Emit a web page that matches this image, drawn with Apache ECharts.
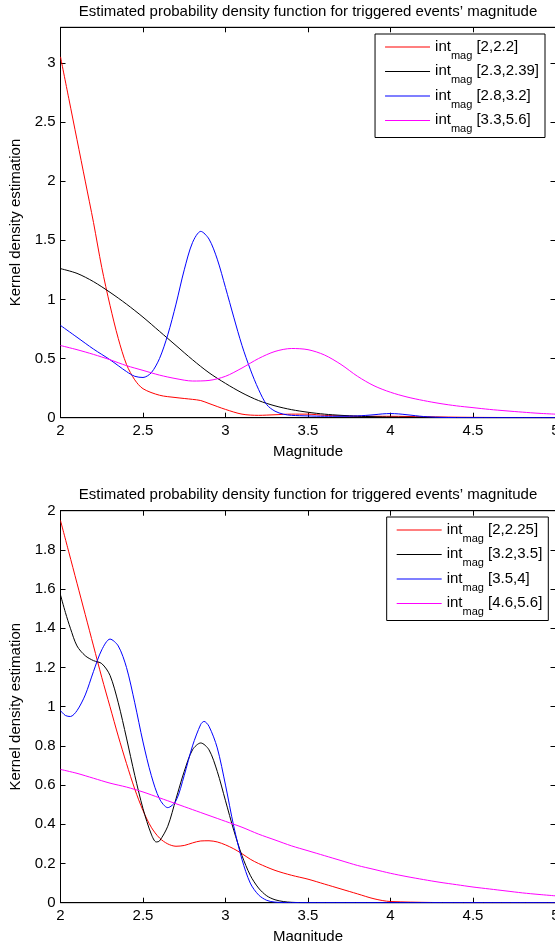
<!DOCTYPE html>
<html>
<head>
<meta charset="utf-8">
<script src="https://cdn.jsdelivr.net/npm/echarts@6/dist/echarts.min.js"></script>
<style>
  html, body { margin: 0; padding: 0; background: #fff; }
  #chart { width: 555px; height: 941px; }
</style>
</head>
<body>
<div id="chart"></div>
<script>
// ---- Chart text ----
const titleText = "Estimated probability density function for triggered events\u2019 magnitude";
const xName = "Magnitude";
const yName = "Kernel density estimation";

// ---- Tick labels ----
const xTicks = [2, 2.5, 3, 3.5, 4, 4.5, 5];
const xTickLabels = ["2", "2.5", "3", "3.5", "4", "4.5", "5"];
const topYTicks = [0, 0.5, 1, 1.5, 2, 2.5, 3];
const topYTickLabels = ["0", "0.5", "1", "1.5", "2", "2.5", "3"];
const topYMax = 3.3;
const botYTicks = [0, 0.2, 0.4, 0.6, 0.8, 1, 1.2, 1.4, 1.6, 1.8, 2];
const botYTickLabels = ["0", "0.2", "0.4", "0.6", "0.8", "1", "1.2", "1.4", "1.6", "1.8", "2"];
const botYMax = 2;

// ---- Upper panel: magnitude intervals ----
const topNames = ["[2,2.2]", "[2.3,2.39]", "[2.8,3.2]", "[3.3,5.6]"];

const topRedX = [2.0, 2.05, 2.1, 2.15, 2.2, 2.25, 2.3, 2.35, 2.4, 2.45, 2.5, 2.6, 2.7, 2.8, 2.85, 2.9, 3.0, 3.1, 3.2, 3.3, 3.4, 3.5, 3.6, 3.7, 3.8, 3.9, 4.0, 4.2, 4.5, 5.0];
const topRedY = [3.05, 2.70, 2.35, 2.00, 1.65, 1.27, 0.95, 0.67, 0.45, 0.32, 0.245, 0.19, 0.17, 0.155, 0.145, 0.12, 0.07, 0.03, 0.02, 0.025, 0.03, 0.03, 0.02, 0.015, 0.012, 0.012, 0.012, 0.008, 0.003, 0.0];

const topBlackX = [2.0, 2.1, 2.2, 2.3, 2.4, 2.5, 2.6, 2.7, 2.8, 2.9, 3.0, 3.1, 3.2, 3.3, 3.4, 3.5, 3.6, 3.7, 3.8, 3.9, 4.0, 4.2, 4.5, 5.0];
const topBlackY = [1.26, 1.22, 1.15, 1.06, 0.96, 0.85, 0.73, 0.61, 0.49, 0.38, 0.29, 0.21, 0.145, 0.1, 0.068, 0.046, 0.03, 0.02, 0.013, 0.008, 0.005, 0.003, 0.001, 0.0];

const topBlueX = [2.0, 2.1, 2.2, 2.3, 2.4, 2.45, 2.5, 2.55, 2.6, 2.65, 2.7, 2.75, 2.8, 2.85, 2.9, 2.95, 3.0, 3.05, 3.1, 3.15, 3.2, 3.25, 3.3, 3.35, 3.4, 3.5, 3.6, 3.7, 3.8, 3.9, 3.95, 4.0, 4.05, 4.1, 4.2, 4.3, 4.5, 5.0];
const topBlueY = [0.78, 0.68, 0.58, 0.49, 0.39, 0.35, 0.34, 0.38, 0.5, 0.7, 0.96, 1.25, 1.48, 1.575, 1.51, 1.34, 1.1, 0.85, 0.61, 0.41, 0.24, 0.11, 0.055, 0.03, 0.02, 0.015, 0.012, 0.012, 0.015, 0.025, 0.032, 0.035, 0.032, 0.025, 0.01, 0.003, 0.0, 0.0];

const topMagX = [2.0, 2.1, 2.2, 2.3, 2.4, 2.5, 2.6, 2.7, 2.8, 2.9, 3.0, 3.1, 3.2, 3.3, 3.4, 3.5, 3.6, 3.7, 3.8, 3.9, 4.0, 4.1, 4.2, 4.3, 4.4, 4.5, 4.6, 4.7, 4.8, 4.9, 5.0];
const topMagY = [0.61, 0.575, 0.535, 0.49, 0.44, 0.40, 0.36, 0.33, 0.31, 0.315, 0.35, 0.42, 0.50, 0.56, 0.585, 0.575, 0.53, 0.45, 0.35, 0.27, 0.215, 0.175, 0.145, 0.12, 0.1, 0.085, 0.07, 0.058, 0.047, 0.037, 0.03];

// ---- Lower panel: magnitude intervals ----
const botNames = ["[2,2.25]", "[3.2,3.5]", "[3.5,4]", "[4.6,5.6]"];

const botRedX = [2.0, 2.05, 2.1, 2.15, 2.2, 2.25, 2.3, 2.35, 2.4, 2.45, 2.5, 2.55, 2.6, 2.65, 2.7, 2.75, 2.8, 2.85, 2.9, 2.95, 3.0, 3.05, 3.1, 3.15, 3.2, 3.3, 3.4, 3.5, 3.6, 3.7, 3.8, 3.9, 4.0, 4.5, 5.0];
const botRedY = [1.95, 1.79, 1.63, 1.47, 1.31, 1.15, 1.0, 0.85, 0.71, 0.58, 0.47, 0.385, 0.33, 0.3, 0.288, 0.292, 0.305, 0.315, 0.316, 0.31, 0.295, 0.275, 0.25, 0.222, 0.2, 0.165, 0.14, 0.12, 0.095, 0.07, 0.045, 0.02, 0.006, 0.0, 0.0];

const botBlackX = [2.0, 2.03, 2.06, 2.1, 2.15, 2.2, 2.25, 2.3, 2.35, 2.4, 2.45, 2.5, 2.55, 2.58, 2.6, 2.65, 2.7, 2.75, 2.8, 2.85, 2.9, 2.95, 3.0, 3.05, 3.1, 3.15, 3.2, 3.25, 3.3, 3.35, 3.4, 3.5, 5.0];
const botBlackY = [1.57, 1.48, 1.40, 1.31, 1.26, 1.235, 1.22, 1.16, 1.02, 0.84, 0.65, 0.48, 0.35, 0.31, 0.315, 0.39, 0.53, 0.67, 0.78, 0.815, 0.78, 0.67, 0.52, 0.37, 0.24, 0.14, 0.075, 0.035, 0.015, 0.006, 0.002, 0.0, 0.0];

const botBlueX = [2.0, 2.03, 2.06, 2.1, 2.15, 2.2, 2.25, 2.3, 2.35, 2.4, 2.45, 2.5, 2.55, 2.6, 2.65, 2.7, 2.75, 2.8, 2.85, 2.87, 2.9, 2.95, 3.0, 3.05, 3.1, 3.15, 3.2, 3.25, 3.3, 3.4, 5.0];
const botBlueY = [0.98, 0.955, 0.95, 0.98, 1.06, 1.18, 1.29, 1.345, 1.31, 1.2, 1.02, 0.82, 0.65, 0.53, 0.485, 0.52, 0.65, 0.8, 0.91, 0.925, 0.9, 0.79, 0.6, 0.39, 0.22, 0.1, 0.04, 0.012, 0.003, 0.0, 0.0];

const botMagX = [2.0, 2.1, 2.2, 2.3, 2.4, 2.5, 2.6, 2.7, 2.8, 2.9, 3.0, 3.1, 3.2, 3.3, 3.4, 3.5, 3.6, 3.7, 3.8, 3.9, 4.0, 4.1, 4.2, 4.3, 4.4, 4.5, 4.6, 4.7, 4.8, 4.9, 5.0];
const botMagY = [0.68, 0.66, 0.635, 0.61, 0.59, 0.565, 0.535, 0.505, 0.475, 0.445, 0.415, 0.385, 0.35, 0.32, 0.29, 0.265, 0.24, 0.215, 0.19, 0.17, 0.15, 0.133, 0.118, 0.104, 0.092, 0.08, 0.07, 0.06, 0.05, 0.042, 0.035];

const lineColors = ["#ff0000", "#000000", "#0000ff", "#ff00ff"];

// ---- Helpers ----
const FONT = "'Liberation Sans', Arial, Helvetica, sans-serif";
const zip = (xs, ys) => xs.map((x, i) => [x, ys[i]]);
const labelFrom = (ticks, labels) => v => {
  const i = ticks.findIndex(t => Math.abs(t - v) < 1e-9);
  return i >= 0 ? labels[i] : "";
};

const plotLeft = 60.5, plotWidth = 495;
const panels = [
  { top: 27.3, height: 390.4, yMax: topYMax, yTicks: topYTicks, yLabels: topYTickLabels },
  { top: 510.7, height: 392, yMax: botYMax, yTicks: botYTicks, yLabels: botYTickLabels }
];

const grids = [], xAxes = [], yAxes = [];
panels.forEach((p, g) => {
  // the plot box runs to the page's right edge, so the last x label is allowed to overflow
  grids.push({ left: plotLeft, top: p.top, width: plotWidth, height: p.height,
    outerBoundsMode: "none", containLabel: false,
    show: true, borderColor: "#000", borderWidth: 1, backgroundColor: "#fff" });
  const common = {
    gridIndex: g, type: "value", splitLine: { show: false },
    axisLine: { show: true, onZero: false, lineStyle: { color: "#000", width: 1 } },
    axisTick: { show: true, inside: true, length: 5, lineStyle: { color: "#000" } }
  };
  const xInterval = xTicks[1] - xTicks[0];
  xAxes.push(Object.assign({}, common, {
    position: "bottom", min: xTicks[0], max: xTicks[xTicks.length - 1], interval: xInterval,
    name: xName, nameLocation: "middle", nameGap: 27,
    nameTextStyle: { fontFamily: FONT, fontSize: 15, color: "#000" },
    axisLabel: { show: true, margin: 6, fontFamily: FONT, fontSize: 15, color: "#000",
      hideOverlap: false, formatter: labelFrom(xTicks, xTickLabels) }
  }));
  xAxes.push(Object.assign({}, common, {
    position: "top", min: xTicks[0], max: xTicks[xTicks.length - 1], interval: xInterval,
    axisLabel: { show: false }
  }));
  const yInterval = p.yTicks[1] - p.yTicks[0];
  yAxes.push(Object.assign({}, common, {
    position: "left", min: p.yTicks[0], max: p.yMax, interval: yInterval,
    name: yName, nameLocation: "middle", nameGap: 33, nameRotate: 90,
    nameTextStyle: { fontFamily: FONT, fontSize: 15, color: "#000" },
    axisLabel: { show: true, margin: 5, fontFamily: FONT, fontSize: 15, color: "#000",
      formatter: labelFrom(p.yTicks, p.yLabels) }
  }));
  yAxes.push(Object.assign({}, common, {
    position: "right", min: p.yTicks[0], max: p.yMax, interval: yInterval,
    axisLabel: { show: false }
  }));
});

const panelSeries = [
  { names: topNames, xs: [topRedX, topBlackX, topBlueX, topMagX], ys: [topRedY, topBlackY, topBlueY, topMagY] },
  { names: botNames, xs: [botRedX, botBlackX, botBlueX, botMagX], ys: [botRedY, botBlackY, botBlueY, botMagY] }
];

const series = [];
panelSeries.forEach((ps, g) => {
  ps.names.forEach((name, k) => {
    series.push({
      name: name, type: "line", xAxisIndex: g * 2, yAxisIndex: g * 2,
      data: zip(ps.xs[k], ps.ys[k]),
      smooth: 0.3, symbol: "none", showSymbol: false, clip: true,
      color: lineColors[k],
      lineStyle: { color: lineColors[k], width: 1 },
      emphasis: { disabled: true }
    });
  });
});

// Legend entries: a plain line sample followed by "int" with a "mag" subscript
const legendRich = {
  a: { fontFamily: FONT, fontSize: 15, color: "#000", lineHeight: 16, verticalAlign: "top" },
  s: { fontFamily: FONT, fontSize: 11, color: "#000", lineHeight: 11, verticalAlign: "top", padding: [11, 0, 0, 0] }
};
const legendBase = {
  orient: "vertical", icon: "rect", itemWidth: 45, itemHeight: 1, itemGap: 2.5,
  backgroundColor: "#fff", borderColor: "#000", borderWidth: 1,
  padding: [5, 6, 3, 10], selectedMode: false,
  textStyle: { rich: legendRich },
  formatter: name => "{a|int}{s|mag}{a| " + name + "}"
};
const legends = [
  Object.assign({}, legendBase, { data: topNames, right: 10, top: 34 }),
  Object.assign({}, legendBase, { data: botNames, right: 6.7, top: 517 })
];

const titleStyle = { fontFamily: FONT, fontSize: 15, fontWeight: "normal", color: "#000" };
const titles = [
  { text: titleText, left: plotLeft + plotWidth / 2, top: 4, textAlign: "center", padding: 0, textStyle: titleStyle },
  { text: titleText, left: plotLeft + plotWidth / 2, top: 487, textAlign: "center", padding: 0, textStyle: titleStyle }
];

const chart = echarts.init(document.getElementById("chart"), null, { renderer: "canvas" });
chart.setOption({
  animation: false,
  backgroundColor: "#fff",
  title: titles,
  legend: legends,
  grid: grids,
  xAxis: xAxes,
  yAxis: yAxes,
  series: series
});
</script>
</body>
</html>
